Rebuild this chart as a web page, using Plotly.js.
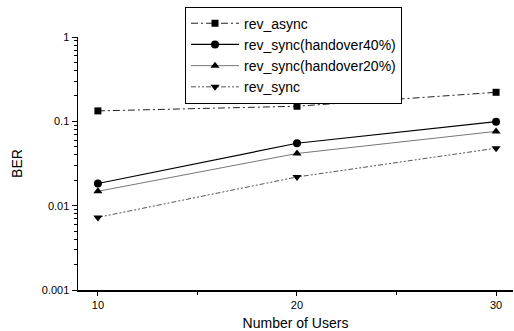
<!DOCTYPE html>
<html><head><meta charset="utf-8">
<script src="https://cdn.plot.ly/plotly-3.0.1.min.js"></script>
<style>body{margin:0;background:#fff}#c{width:514px;height:331px}</style>
</head><body><div id="c"></div>
<script>
const users = [10, 20, 30];
const revAsync = [0.133, 0.151, 0.221];
const revSync40 = [0.0183, 0.055, 0.099];
const revSync20 = [0.0148, 0.0416, 0.076];
const revSync = [0.00726, 0.0219, 0.048];
const names = ['rev_async', 'rev_sync(handover40%)', 'rev_sync(handover20%)', 'rev_sync'];
const yTicks = [0.001, 0.01, 0.1, 1];
const yTickText = ['0.001', '0.01', '0.1', '1'];

const minorY = [];
[0.001, 0.01, 0.1].forEach(d => { for (let k = 2; k <= 9; k++) minorY.push(d * k); });

const traces = [
  {x: users, y: revAsync, name: names[0], mode: 'lines+markers',
   line: {color: '#222', width: 1, dash: '7px,3px,2px,3px'},
   marker: {symbol: 'square', size: 7, color: '#000'}},
  {x: users, y: revSync40, name: names[1], mode: 'lines+markers',
   line: {color: '#000', width: 1.2},
   marker: {symbol: 'circle', size: 8, color: '#000'}},
  {x: users, y: revSync20, name: names[2], mode: 'lines+markers',
   line: {color: '#777', width: 1},
   marker: {symbol: 'triangle-up', size: 8, color: '#000'}},
  {x: users, y: revSync, name: names[3], mode: 'lines+markers',
   line: {color: '#555', width: 1, dash: '5px,2px,2px,2px,2px,2px'},
   marker: {symbol: 'triangle-down', size: 8, color: '#000'}}
];

const layout = {
  width: 514, height: 331,
  margin: {l: 78, r: 1, t: 37, b: 41},
  paper_bgcolor: '#fff', plot_bgcolor: '#fff',
  font: {family: 'Liberation Sans, Arial, sans-serif', color: '#000'},
  showlegend: true,
  legend: {x: 0.246, y: 1.12, xanchor: 'left', yanchor: 'top',
    bordercolor: '#000', borderwidth: 1, bgcolor: '#fff',
    font: {size: 14}, itemwidth: 48, tracegroupgap: 0},
  xaxis: {range: [9, 30.85], tickvals: users, ticktext: users.map(String),
    ticks: 'outside', ticklen: 4, tickcolor: '#000',
    showline: true, linecolor: '#000', linewidth: 1.5, showgrid: false, zeroline: false,
    tickfont: {size: 11, family: 'Liberation Sans Narrow, Arial Narrow, sans-serif'},
    minor: {dtick: 5, ticks: 'outside', ticklen: 3, tickcolor: '#000', showgrid: false},
    title: {text: 'Number of Users', font: {size: 14}, standoff: 8}},
  yaxis: {type: 'log', range: [-3, 0], tickvals: yTicks, ticktext: yTickText,
    ticks: 'outside', ticklen: 5, tickcolor: '#000',
    showline: true, linecolor: '#000', linewidth: 1.5, showgrid: false, zeroline: false,
    tickfont: {size: 11, family: 'Liberation Sans Narrow, Arial Narrow, sans-serif'},
    minor: {tickvals: minorY, ticks: 'outside', ticklen: 3, tickcolor: '#000', showgrid: false},
    title: {text: 'BER', font: {size: 14}, standoff: 16}}
};

Plotly.newPlot('c', traces, layout, {displayModeBar: false, staticPlot: true});
</script></body></html>
